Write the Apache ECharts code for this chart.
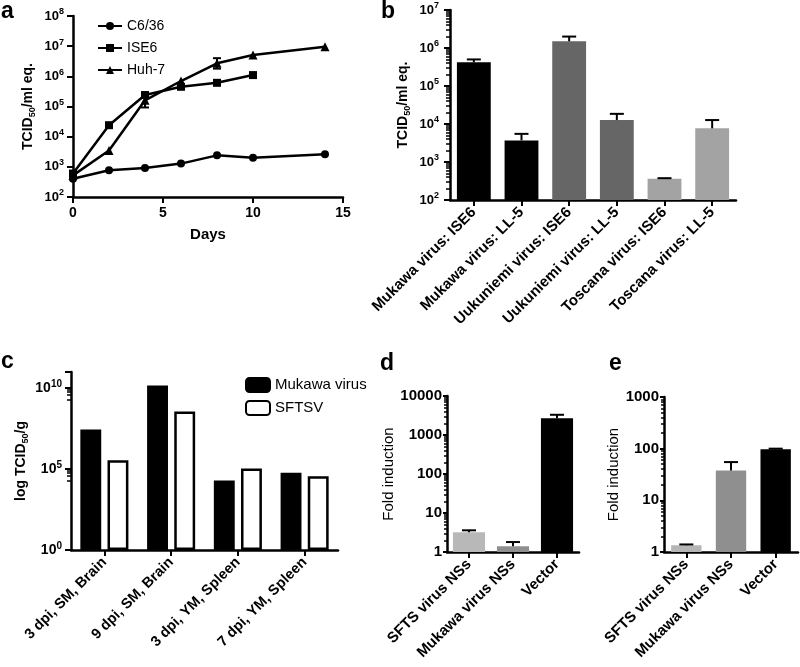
<!DOCTYPE html>
<html>
<head>
<meta charset="utf-8">
<script src="https://cdn.jsdelivr.net/npm/echarts@6/dist/echarts.min.js"></script>
<style>
  html, body { margin: 0; padding: 0; background: #fff; }
  #main { width: 800px; height: 667px; }
</style>
</head>
<body>
<div id="main"></div>
<script>
// panel a: growth curves
const daysA = [0, 2, 4, 6, 8, 10, 14]
const c636A = [400, 770, 920, 1280, 2400, 2000, 2600]
const ise6A = [600, 24000, 240000, 450000, 610000, 1100000]
const huh7A = [520, 3500, 160000, 700000, 2700000, 5100000, 9600000]
// [day, low, high]
const huh7ErrA = [[4, 93000, 250000], [8, 1800000, 4000000]]

// panel b
const catsB = ['Mukawa virus: ISE6', 'Mukawa virus: LL-5', 'Uukuniemi virus: ISE6', 'Uukuniemi virus: LL-5', 'Toscana virus: ISE6', 'Toscana virus: LL-5']
const valsB = [420000, 3700, 1500000, 12700, 360, 7700]
const highB = [500000, 5500, 2000000, 18500, 375, 12700]

// panel c
const catsC = ['3 dpi, SM, Brain', '9 dpi, SM, Brain', '3 dpi, YM, Spleen', '7 dpi, YM, Spleen']
const mukawaC = [28000000, 14500000000, 20000, 60000]
const sftsvC = [350000, 360000000, 107000, 36000]

// panel d
const catsD = ['SFTS virus NSs', 'Mukawa virus NSs', 'Vector']
const valsD = [3.2, 1.4, 2700]
const highD = [3.6, 1.8, 3300]

// panel e
const catsE = ['SFTS virus NSs', 'Mukawa virus NSs', 'Vector']
const valsE = [1.35, 38, 97]
const highE = [1.4, 55, 100]

const colorsB = ['#000', '#000', '#666', '#666', '#a3a3a3', '#a3a3a3']
const colorsD = ['#b8b8b8', '#8f8f8f', '#000']
const colorsE = ['#b5b5b5', '#8f8f8f', '#000']

const FONT = "'Liberation Sans', Arial, sans-serif"
const axisLine = { show: true, lineStyle: { color: '#000', width: 2.5 } }
const axisTick = { show: true, length: 6, lineStyle: { color: '#000', width: 2 } }

// 10^n labels with superscript
function powLabel(size, supSize) {
  return {
    color: '#000',
    fontFamily: FONT,
    formatter: function (v) {
      return '{b|10}{s|' + Math.round(Math.log10(v)) + '}'
    },
    rich: {
      b: { fontSize: size, fontWeight: 'bold', fontFamily: FONT, color: '#000' },
      s: { fontSize: supSize, fontWeight: 'bold', fontFamily: FONT, color: '#000', verticalAlign: 'top', padding: [0, 0, 8, 0] }
    }
  }
}
const nameRich = {
  sub: { fontSize: 9, fontWeight: 'bold', fontFamily: FONT, color: '#000', padding: [8, 0, 0, 0] }
}

function errBars(xi, yi, data, cap) {
  return {
    type: 'custom',
    xAxisIndex: xi,
    yAxisIndex: yi,
    z: 5,
    silent: true,
    renderItem: function (params, api) {
      const x = api.value(0)
      const p0 = api.coord([x, api.value(1)])
      const p1 = api.coord([x, api.value(2)])
      const st = { stroke: '#000', lineWidth: 2 }
      const kids = [
        { type: 'line', shape: { x1: p0[0], y1: p0[1], x2: p1[0], y2: p1[1] }, style: st },
        { type: 'line', shape: { x1: p1[0] - cap, y1: p1[1], x2: p1[0] + cap, y2: p1[1] }, style: st }
      ]
      if (api.value(3)) {
        kids.push({ type: 'line', shape: { x1: p0[0] - cap, y1: p0[1], x2: p0[0] + cap, y2: p0[1] }, style: st })
      }
      return { type: 'group', children: kids }
    },
    data: data
  }
}

function catAxis(gi, cats, fontSize) {
  return {
    type: 'category',
    gridIndex: gi,
    data: cats,
    axisLine: axisLine,
    axisTick: { show: true, alignWithLabel: true, length: 6, lineStyle: { color: '#000', width: 2 } },
    axisLabel: { rotate: 45, interval: 0, margin: 10, color: '#000', fontFamily: FONT, fontWeight: 'bold', fontSize: fontSize },
    splitLine: { show: false }
  }
}

const plainLabel = { margin: 5, color: '#000', fontSize: 15, fontWeight: 'bold', fontFamily: FONT, formatter: v => String(v) }
const smallTick = { show: true, length: 4, lineStyle: { color: '#000', width: 2 } }

const chart = echarts.init(document.getElementById('main'))

const option = {
  animation: false,
  textStyle: { fontFamily: FONT },
  title: [
    { text: 'a', left: 1, top: 0, padding: 0, textStyle: { fontSize: 23, fontWeight: 'bold', color: '#000' } },
    { text: 'b', left: 381, top: 0, padding: 0, textStyle: { fontSize: 23, fontWeight: 'bold', color: '#000' } },
    { text: 'c', left: 1, top: 350, padding: 0, textStyle: { fontSize: 23, fontWeight: 'bold', color: '#000' } },
    { text: 'd', left: 380, top: 352, padding: 0, textStyle: { fontSize: 23, fontWeight: 'bold', color: '#000' } },
    { text: 'e', left: 609, top: 352, padding: 0, textStyle: { fontSize: 23, fontWeight: 'bold', color: '#000' } }
  ],
  legend: [
    {
      data: ['C6/36', 'ISE6', 'Huh-7'],
      orient: 'vertical',
      left: 92,
      top: 14,
      itemWidth: 24,
      itemHeight: 10,
      itemGap: 8,
      textStyle: { fontSize: 14, color: '#000', fontFamily: FONT }
    },
    {
      data: ['Mukawa virus', 'SFTSV'],
      orient: 'vertical',
      left: 240,
      top: 372,
      itemWidth: 24,
      itemHeight: 14,
      itemGap: 7,
      textStyle: { fontSize: 15, color: '#000', fontFamily: FONT }
    }
  ],
  grid: [
    { left: 73, top: 16, width: 270, height: 181, outerBoundsMode: 'none' },
    { left: 450, top: 10, width: 286, height: 190, outerBoundsMode: 'none' },
    { left: 71, top: 372, width: 267, height: 178, outerBoundsMode: 'none' },
    { left: 447, top: 396, width: 132, height: 156, outerBoundsMode: 'none' },
    { left: 664, top: 397, width: 134, height: 155, outerBoundsMode: 'none' }
  ],
  xAxis: [
    {
      type: 'value',
      gridIndex: 0,
      min: 0,
      max: 15,
      interval: 5,
      name: 'Days',
      nameLocation: 'middle',
      nameGap: 30,
      nameTextStyle: { fontSize: 15, fontWeight: 'bold', color: '#000', fontFamily: FONT },
      axisLine: axisLine,
      axisTick: axisTick,
      axisLabel: { margin: 9, color: '#000', fontSize: 14, fontWeight: 'bold', fontFamily: FONT },
      splitLine: { show: false }
    },
    catAxis(1, catsB, 15),
    catAxis(2, catsC, 14.5),
    catAxis(3, catsD, 15),
    catAxis(4, catsE, 15)
  ],
  yAxis: [
    {
      type: 'log',
      gridIndex: 0,
      logBase: 10,
      min: 100,
      max: 100000000,
      interval: 1,
      splitNumber: 6,
      name: 'TCID{sub|50}/ml eq.',
      nameLocation: 'middle',
      nameRotate: 90,
      nameGap: 36,
      nameTextStyle: { fontSize: 14, fontWeight: 'bold', color: '#000', fontFamily: FONT, rich: nameRich },
      axisLine: axisLine,
      axisTick: axisTick,
      axisLabel: Object.assign({ margin: 9 }, powLabel(13, 9)),
      splitLine: { show: false }
    },
    {
      type: 'log',
      gridIndex: 1,
      logBase: 10,
      min: 100,
      max: 10000000,
      interval: 1,
      splitNumber: 5,
      name: 'TCID{sub|50}/ml eq.',
      nameLocation: 'middle',
      nameRotate: 90,
      nameGap: 38,
      nameTextStyle: { fontSize: 14, fontWeight: 'bold', color: '#000', fontFamily: FONT, rich: nameRich },
      axisLine: axisLine,
      axisTick: axisTick,
      minorTick: { show: true, splitNumber: 9, length: 4, lineStyle: { color: '#000', width: 1.5 } },
      axisLabel: Object.assign({ margin: 11 }, powLabel(13, 9)),
      splitLine: { show: false },
      minorSplitLine: { show: false }
    },
    {
      type: 'log',
      gridIndex: 2,
      logBase: 10,
      min: 1,
      max: 100000000000,
      interval: 5,
      name: 'log TCID{sub|50}/g',
      nameLocation: 'middle',
      nameRotate: 90,
      nameGap: 41,
      nameTextStyle: { fontSize: 14, fontWeight: 'bold', color: '#000', fontFamily: FONT, rich: nameRich },
      axisLine: axisLine,
      axisTick: axisTick,
      minorTick: { show: true, splitNumber: 5, length: 4, lineStyle: { color: '#000', width: 1.5 } },
      axisLabel: Object.assign({}, powLabel(14, 10), {
        margin: 9,
        showMaxLabel: false,
        formatter: function (v) {
          const e = Math.round(Math.log10(v))
          return e % 5 === 0 ? '{b|10}{s|' + e + '}' : ''
        }
      }),
      splitLine: { show: false },
      minorSplitLine: { show: false }
    },
    {
      type: 'log',
      gridIndex: 3,
      logBase: 10,
      min: 1,
      max: 10000,
      interval: 1,
      splitNumber: 4,
      name: 'Fold induction',
      nameLocation: 'middle',
      nameRotate: 90,
      nameGap: 49,
      nameTextStyle: { fontSize: 15, color: '#000', fontFamily: FONT },
      axisLine: axisLine,
      axisTick: smallTick,
      minorTick: { show: true, splitNumber: 9, length: 3, lineStyle: { color: '#000', width: 1.5 } },
      axisLabel: plainLabel,
      splitLine: { show: false },
      minorSplitLine: { show: false }
    },
    {
      type: 'log',
      gridIndex: 4,
      logBase: 10,
      min: 1,
      max: 1000,
      interval: 1,
      splitNumber: 3,
      name: 'Fold induction',
      nameLocation: 'middle',
      nameRotate: 90,
      nameGap: 36,
      nameTextStyle: { fontSize: 15, color: '#000', fontFamily: FONT },
      axisLine: axisLine,
      axisTick: smallTick,
      minorTick: { show: true, splitNumber: 9, length: 3, lineStyle: { color: '#000', width: 1.5 } },
      axisLabel: plainLabel,
      splitLine: { show: false },
      minorSplitLine: { show: false }
    }
  ],
  series: [
    {
      name: 'C6/36',
      type: 'line',
      xAxisIndex: 0,
      yAxisIndex: 0,
      symbol: 'circle',
      symbolSize: 8,
      lineStyle: { color: '#000', width: 2.5 },
      itemStyle: { color: '#000' },
      data: daysA.map((d, i) => [d, c636A[i]])
    },
    {
      name: 'ISE6',
      type: 'line',
      xAxisIndex: 0,
      yAxisIndex: 0,
      symbol: 'rect',
      symbolSize: 8,
      lineStyle: { color: '#000', width: 2.5 },
      itemStyle: { color: '#000' },
      data: ise6A.map((v, i) => [daysA[i], v])
    },
    {
      name: 'Huh-7',
      type: 'line',
      xAxisIndex: 0,
      yAxisIndex: 0,
      symbol: 'triangle',
      symbolSize: 9,
      lineStyle: { color: '#000', width: 2.5 },
      itemStyle: { color: '#000' },
      data: daysA.map((d, i) => [d, huh7A[i]])
    },
    errBars(0, 0, huh7ErrA.map(e => [e[0], e[1], e[2], 1]), 4),
    {
      type: 'bar',
      xAxisIndex: 1,
      yAxisIndex: 1,
      barCategoryGap: '29%',
      itemStyle: { color: p => colorsB[p.dataIndex] },
      data: valsB
    },
    errBars(1, 1, valsB.map((v, i) => [i, v, highB[i], 0]), 7),
    {
      name: 'Mukawa virus',
      type: 'bar',
      xAxisIndex: 2,
      yAxisIndex: 2,
      barCategoryGap: '28%',
      barGap: '30%',
      itemStyle: { color: '#000', borderColor: '#000', borderWidth: 2 },
      data: mukawaC
    },
    {
      name: 'SFTSV',
      type: 'bar',
      xAxisIndex: 2,
      yAxisIndex: 2,
      itemStyle: { color: '#fff', borderColor: '#000', borderWidth: 2.5 },
      data: sftsvC
    },
    {
      type: 'bar',
      xAxisIndex: 3,
      yAxisIndex: 3,
      barCategoryGap: '27%',
      itemStyle: { color: p => colorsD[p.dataIndex] },
      data: valsD
    },
    errBars(3, 3, valsD.map((v, i) => [i, v, highD[i], 0]), 7),
    {
      type: 'bar',
      xAxisIndex: 4,
      yAxisIndex: 4,
      barCategoryGap: '32%',
      itemStyle: { color: p => colorsE[p.dataIndex] },
      data: valsE
    },
    errBars(4, 4, valsE.map((v, i) => [i, v, highE[i], 0]), 7)
  ]
}

chart.setOption(option)
</script>
</body>
</html>
